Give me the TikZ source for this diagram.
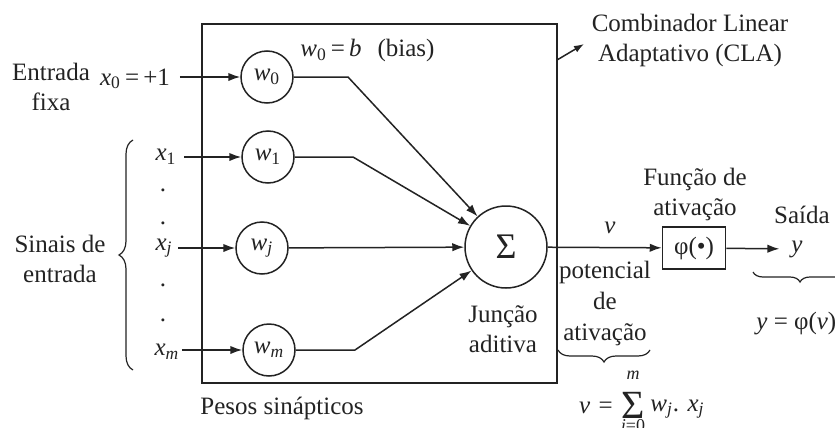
\documentclass[tikz,border=0pt]{standalone}
\usepackage{fontspec}
\setmainfont{Liberation Serif}
\usetikzlibrary{arrows.meta,decorations.pathreplacing}
\definecolor{ink}{RGB}{35,35,35}
\newcommand\iv[1]{\textit{#1}}
\begin{document}
\begin{tikzpicture}[x=0.5pt,y=-0.5pt,
  every node/.style={font=\fontsize{12.5}{15}\selectfont, text=ink, inner sep=1pt},
  arr/.style={-{Latex[length=6pt,width=4.2pt]}, draw=ink, line width=0.75pt},
  ln/.style={draw=ink, line width=0.75pt},
  wt/.style={circle, draw=ink, line width=0.75pt, minimum size=26pt, inner sep=0pt},
  brc/.style={decorate, draw=ink, line width=0.6pt},
  lbl/.style={align=center}]
\useasboundingbox (0,0) rectangle (835,428);
\clip (0,0) rectangle (835,428);
\fill[white] (0,0) rectangle (835,428);

% box
\node[draw=ink, line width=0.75pt, minimum width=177.5pt, minimum height=179.5pt, inner sep=0pt] (box) at (379.5,203.5) {};

% weights
\node[wt] (w0) at (267,77) {\iv{w}\textsubscript{0}};
\node[wt] (w1) at (268,157) {\iv{w}\textsubscript{1}};
\node[wt] (wj) at (262,248) {\iv{w}\textsubscript{\iv{j}}};
\node[wt] (wm) at (269,350) {\iv{w}\textsubscript{\iv{m}}};

% summing junction and activation
\node[circle, draw=ink, line width=0.75pt, minimum size=41pt, inner sep=0pt] (sig) at (506,247) {\fontsize{18}{18}\selectfont Σ};
\node[draw=ink, line width=0.75pt, minimum width=31.5pt, minimum height=21pt, inner sep=0pt] (phi) at (694,248) {φ(•)};

% input labels
\node[lbl] (ef) at (51,87) {Entrada\\fixa};
\node[inner sep=1pt, outer sep=4pt] (x0) at (135,79) {\iv{x}\textsubscript{0}\,=\,+1};
\node[outer sep=3pt] (x1) at (166,157) {\iv{x}\textsubscript{1}};
\node (d1) at (163,190) {.};
\node (d2) at (163,223) {.};
\node[outer sep=2pt] (xj) at (164,248) {\iv{x}\textsubscript{\iv{j}}};
\node (d3) at (163,285) {.};
\node (d4) at (163,320) {.};
\node (xm) at (167,352) {\iv{x}\textsubscript{\iv{m}}};
\node[lbl] (se) at (60,259) {Sinais de\\entrada};
\coordinate (bl1) at (133,370);
\coordinate (bl2) at (133,140);
\draw[brc, decoration={brace, amplitude=7pt}] (bl1) -- (bl2);

% input arrows
\draw[arr] (x0.east |- w0) -- (w0);
\draw[arr] (x1.east |- w1) -- (w1);
\draw[arr] (xj.east |- wj) -- (wj);
\draw[arr] (xm.east |- wm) -- (wm);

% weight to sum
\coordinate (b0) at (348,77);
\coordinate (b1) at (353,157);
\coordinate (bm) at (355,350);
\draw[arr] (w0.east) -- (b0) -- (sig);
\draw[arr] (w1.east) -- (b1) -- (sig);
\draw[arr] (wj) -- (sig);
\draw[arr] (wm.east) -- (bm) -- (sig);

% bias label
\node (wb) at (331,50) {\iv{w}\textsubscript{0}\,=\,\iv{b}};
\node (bias) at (406,50) {(bias)};

% CLA
\node[lbl] (cla) at (690,40) {Combinador Linear\\Adaptativo (CLA)};
\coordinate (c1) at (557,60);
\coordinate (c2) at (584,44);
\draw[arr, -{Latex[length=5pt,width=3.6pt]}] (c1) -- (c2);

% output path
\node (vl) at (610,228) {\iv{v}};
\draw[arr] (sig) -- (phi);
\node[inner sep=1pt, outer sep=5pt] (yl) at (797,249) {\iv{y}};
\draw[arr] (phi) -- (yl);
\node[lbl] (fa) at (695,194) {Função de\\ativação};
\node (sa) at (802,215) {Saída};
\node[lbl] (ja) at (503,329) {Junção\\aditiva};
\node[lbl, font=\fontsize{12.5}{15.5}\selectfont] (pa) at (605,303) {potencial\\de\\ativação};
\node (ps) at (282,408) {Pesos sinápticos};

% braces
\coordinate (p1) at (650,350);
\coordinate (p2) at (558,350);
\draw[brc, decoration={brace, amplitude=6pt}] (p1) -- (p2);
\coordinate (q1) at (847,272);
\coordinate (q2) at (753,272);
\draw[brc, decoration={brace, amplitude=5pt}] (q1) -- (q2);
\node[anchor=west] (yeq) at (754,324) {\iv{y} = φ(\iv{v})};

% sum formula
\node (veq) at (596,408) {\iv{v}\,\,=};
\node[inner sep=0pt] (sm) at (633,405) {\fontsize{20}{20}\selectfont Σ};
\node[inner sep=0pt] (smu) at (633,375) {\fontsize{9}{9}\selectfont\iv{m}};
\node[inner sep=0pt] (sml) at (633,427) {\fontsize{9}{9}\selectfont\iv{j}=0};
\node[anchor=west] (wx) at (648,409) {\iv{w}\textsubscript{\iv{j}}. \iv{x}\textsubscript{\iv{j}}};
\end{tikzpicture}
\end{document}
